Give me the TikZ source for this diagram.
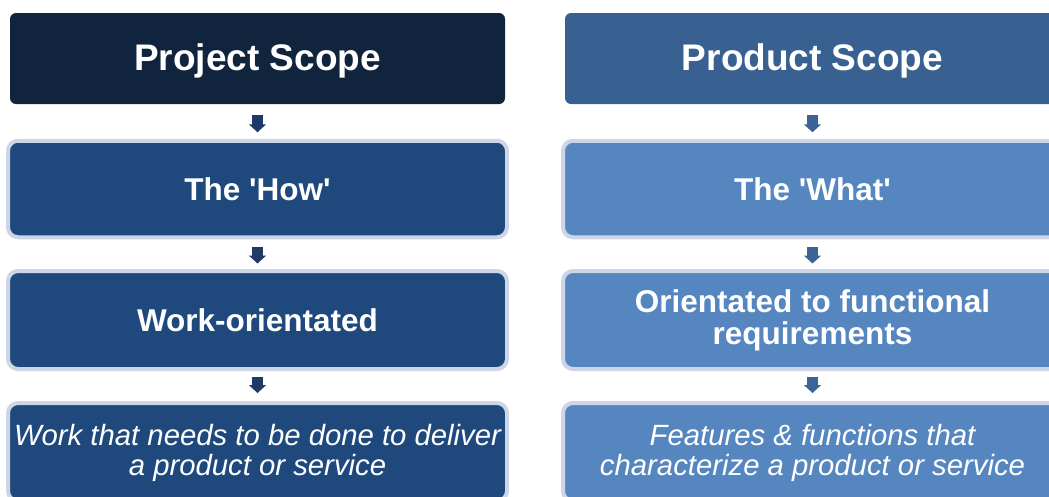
\documentclass[tikz,border=0pt]{standalone}
\usepackage{fontspec}
\setmainfont{Liberation Sans}
\usetikzlibrary{arrows.meta}
\definecolor{hdrL}{HTML}{11243E}
\definecolor{hdrR}{HTML}{386192}
\definecolor{boxL}{HTML}{1F497D}
\definecolor{boxR}{HTML}{5586BF}
\definecolor{bordc}{HTML}{CDD6E6}
\definecolor{arrL}{HTML}{1F3A66}
\definecolor{arrR}{HTML}{3A6496}
\begin{document}
\begin{tikzpicture}[x=1pt,y=-1pt,
  hdr/.style={rounded corners=6pt, minimum width=495pt, minimum height=91pt, inner sep=0pt, text=white, font=\fontsize{37}{40}\selectfont\bfseries},
  box/.style={rounded corners=10pt, draw=bordc, line width=4pt, minimum width=499pt, inner sep=0pt, text=white, align=center, font=\fontsize{31.5}{32}\selectfont\bfseries},
  itx/.style={inner sep=0pt, text=white, align=center, font=\fontsize{29.3}{30}\selectfont\itshape},
  arr/.style={line width=11pt, -{Triangle[length=8pt,width=17pt]}},
]
\useasboundingbox (0,0) rectangle (1049,496);
% headers
\node[hdr, fill=hdrL] (h1) at (257.5,58.5) {};
\node[hdr, fill=hdrR] (h2) at (812.5,58.5) {};
\node[text=white, font=\fontsize{37}{40}\selectfont\bfseries, inner sep=0pt] (th1) at (257.5,60.5) {Project Scope};
\node[text=white, font=\fontsize{37}{40}\selectfont\bfseries, inner sep=0pt] (th2) at (812.5,60.5) {Product Scope};
% row 2
\node[box, fill=boxL, minimum height=96.5pt] (a1) at (257.5,189) {The \textquotesingle How\textquotesingle};
\node[box, fill=boxR, minimum height=96.5pt] (b1) at (812.5,189) {The \textquotesingle What\textquotesingle};
% row 3
\node[box, fill=boxL, minimum height=98pt] (a2) at (257.5,320) {Work-orientated};
\node[box, fill=boxR, minimum height=98pt] (b2) at (812.5,320) {Orientated to functional\\requirements};
% row 4
\node[box, fill=boxL, minimum height=98pt] (a3) at (257.5,452) {};
\node[box, fill=boxR, minimum height=98pt] (b3) at (812.5,452) {};
\node[itx] (ta3) at (257.5,452.5) {Work that needs to be done to deliver\\a product or service};
\node[itx] (tb3) at (812.5,452.5) {Features \& functions that\\characterize a product or service};
% arrows
\draw[arr, arrL, shorten <=11pt, shorten >=6.5pt] (h1) -- (a1);
\draw[arr, arrR, shorten <=11pt, shorten >=6.5pt] (h2) -- (b1);
\draw[arr, arrL, shorten <=7.5pt, shorten >=5.5pt] (a1) -- (a2);
\draw[arr, arrR, shorten <=7.5pt, shorten >=5.5pt] (b1) -- (b2);
\draw[arr, arrL, shorten <=6pt, shorten >=8pt] (a2) -- (a3);
\draw[arr, arrR, shorten <=6pt, shorten >=8pt] (b2) -- (b3);
\end{tikzpicture}
\end{document}
